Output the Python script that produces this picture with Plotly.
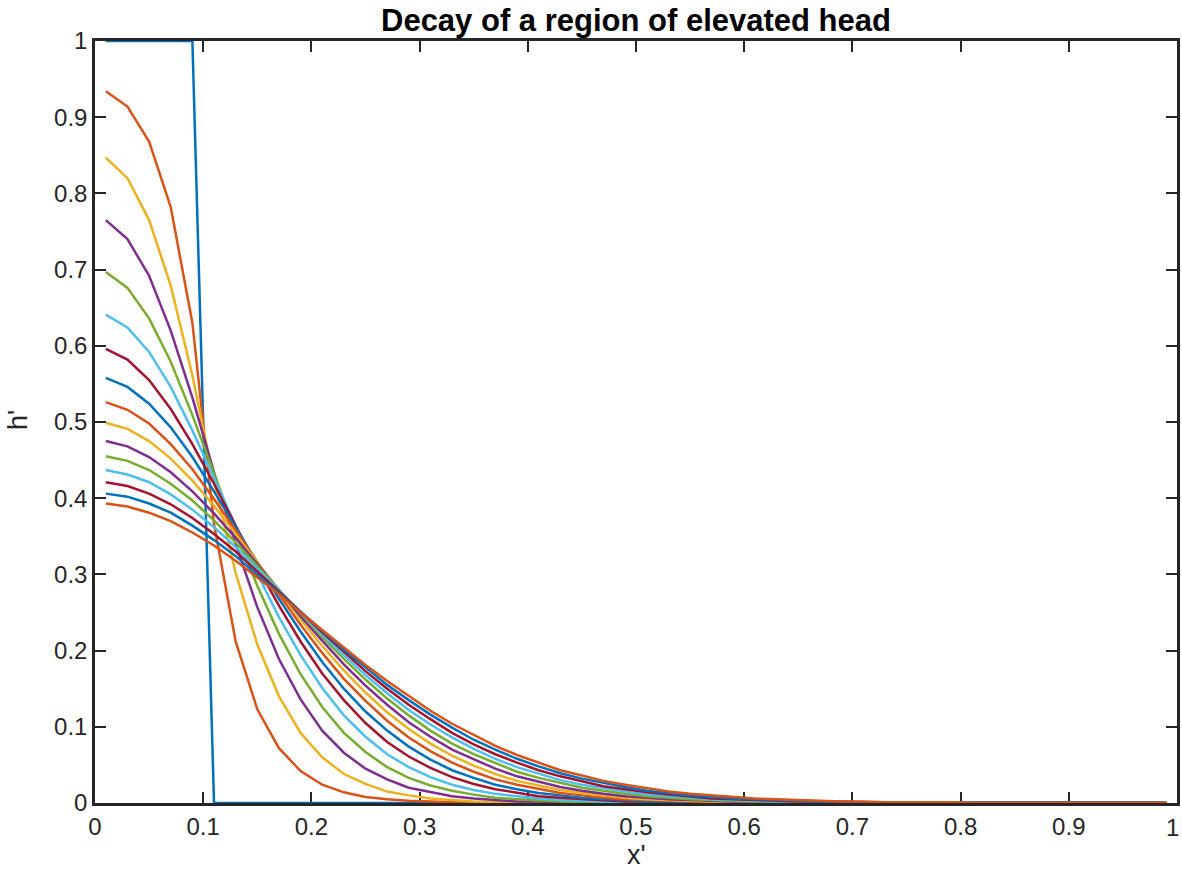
import plotly.graph_objects as go

# grid positions (x')
x = [0.01, 0.03, 0.05, 0.07, 0.09, 0.11, 0.13, 0.15, 0.17, 0.19,
     0.21, 0.23, 0.25, 0.27, 0.29, 0.31, 0.33, 0.35, 0.37, 0.39,
     0.41, 0.43, 0.45, 0.47, 0.49, 0.51, 0.53, 0.55, 0.57, 0.59,
     0.61, 0.63, 0.65, 0.67, 0.69, 0.71, 0.73, 0.75, 0.77, 0.79,
     0.81, 0.83, 0.85, 0.87, 0.89, 0.91, 0.93, 0.95, 0.97, 0.99]

# head profiles h' (thousandths), one list per time level
h01 = [1000, 1000, 1000, 1000, 1000, 0, 0, 0, 0, 0, 0, 0, 0, 0, 0, 0, 0, 0, 0, 0,
       0, 0, 0, 0, 0, 0, 0, 0, 0, 0, 0, 0, 0, 0, 0, 0, 0, 0, 0, 0, 0, 0, 0, 0, 0, 0, 0, 0, 0, 0]
h02 = [934, 914, 868, 782, 630, 366, 212, 123, 72, 42, 24, 14, 8, 5, 3, 2, 1, 1, 0, 0,
       0, 0, 0, 0, 0, 0, 0, 0, 0, 0, 0, 0, 0, 0, 0, 0, 0, 0, 0, 0, 0, 0, 0, 0, 0, 0, 0, 0, 0, 0]
h03 = [847, 820, 765, 679, 561, 423, 302, 208, 140, 92, 60, 38, 25, 15, 10, 6, 4, 2, 1, 1,
       1, 0, 0, 0, 0, 0, 0, 0, 0, 0, 0, 0, 0, 0, 0, 0, 0, 0, 0, 0, 0, 0, 0, 0, 0, 0, 0, 0, 0, 0]
h04 = [765, 740, 692, 620, 532, 434, 340, 257, 189, 136, 95, 66, 45, 31, 20, 14, 9, 6, 4, 2,
       2, 1, 1, 0, 0, 0, 0, 0, 0, 0, 0, 0, 0, 0, 0, 0, 0, 0, 0, 0, 0, 0, 0, 0, 0, 0, 0, 0, 0, 0]
h05 = [697, 676, 636, 579, 509, 433, 356, 285, 222, 169, 126, 92, 67, 47, 33, 23, 16, 11, 7, 5,
       3, 2, 1, 1, 1, 0, 0, 0, 0, 0, 0, 0, 0, 0, 0, 0, 0, 0, 0, 0, 0, 0, 0, 0, 0, 0, 0, 0, 0, 0]
h06 = [641, 624, 592, 546, 489, 427, 363, 301, 244, 194, 151, 115, 87, 64, 47, 34, 24, 17, 12, 9,
       6, 4, 3, 2, 1, 1, 1, 0, 0, 0, 0, 0, 0, 0, 0, 0, 0, 0, 0, 0, 0, 0, 0, 0, 0, 0, 0, 0, 0, 0]
h07 = [596, 582, 555, 517, 471, 419, 364, 310, 259, 212, 170, 135, 105, 80, 61, 46, 34, 25, 18, 13,
       9, 7, 5, 3, 2, 2, 1, 1, 0, 0, 0, 0, 0, 0, 0, 0, 0, 0, 0, 0, 0, 0, 0, 0, 0, 0, 0, 0, 0, 0]
h08 = [558, 546, 524, 493, 454, 409, 362, 315, 268, 225, 185, 150, 120, 95, 74, 57, 43, 33, 24, 18,
       13, 10, 7, 5, 4, 2, 2, 1, 1, 1, 0, 0, 0, 0, 0, 0, 0, 0, 0, 0, 0, 0, 0, 0, 0, 0, 0, 0, 0, 0]
h09 = [526, 516, 498, 471, 438, 399, 358, 316, 274, 234, 197, 163, 134, 108, 86, 68, 53, 41, 31, 24,
       18, 13, 10, 7, 5, 4, 3, 2, 1, 1, 1, 0, 0, 0, 0, 0, 0, 0, 0, 0, 0, 0, 0, 0, 0, 0, 0, 0, 0, 0]
h10 = [499, 491, 475, 452, 423, 390, 353, 316, 278, 241, 206, 174, 145, 119, 97, 78, 62, 49, 38, 29,
       23, 17, 13, 10, 7, 5, 4, 3, 2, 1, 1, 1, 1, 0, 0, 0, 0, 0, 0, 0, 0, 0, 0, 0, 0, 0, 0, 0, 0, 0]
h11 = [475, 468, 454, 434, 409, 380, 348, 314, 279, 245, 213, 182, 154, 129, 106, 87, 70, 57, 45, 35,
       28, 21, 16, 12, 9, 7, 5, 4, 3, 2, 2, 1, 1, 1, 0, 0, 0, 0, 0, 0, 0, 0, 0, 0, 0, 0, 0, 0, 0, 0]
h12 = [455, 449, 437, 419, 397, 371, 342, 311, 280, 248, 218, 189, 162, 137, 115, 95, 78, 64, 52, 41,
       33, 26, 20, 16, 12, 9, 7, 5, 4, 3, 2, 2, 1, 1, 1, 0, 0, 0, 0, 0, 0, 0, 0, 0, 0, 0, 0, 0, 0, 0]
h13 = [437, 431, 421, 405, 385, 362, 336, 308, 279, 250, 221, 194, 168, 144, 122, 103, 86, 71, 58, 47,
       38, 30, 24, 19, 15, 11, 9, 7, 5, 4, 3, 2, 2, 1, 1, 1, 0, 0, 0, 0, 0, 0, 0, 0, 0, 0, 0, 0, 0, 0]
h14 = [421, 416, 406, 392, 374, 353, 330, 304, 278, 251, 224, 198, 173, 150, 129, 110, 92, 77, 64, 53,
       43, 35, 28, 22, 18, 14, 11, 8, 6, 5, 4, 3, 2, 2, 1, 1, 1, 0, 0, 0, 0, 0, 0, 0, 0, 0, 0, 0, 0, 0]
h15 = [406, 402, 393, 381, 364, 345, 324, 300, 276, 251, 226, 201, 178, 155, 135, 116, 99, 83, 70, 58,
       48, 39, 32, 26, 21, 16, 13, 10, 8, 6, 5, 4, 3, 2, 2, 1, 1, 1, 1, 0, 0, 0, 0, 0, 0, 0, 0, 0, 0, 0]
h16 = [393, 389, 381, 370, 355, 338, 318, 296, 274, 250, 227, 204, 181, 160, 140, 121, 104, 89, 75, 63,
       53, 43, 36, 29, 24, 19, 15, 12, 10, 8, 6, 5, 4, 3, 2, 2, 1, 1, 1, 1, 0, 0, 0, 0, 0, 0, 0, 0, 0, 0]

profiles = [h01, h02, h03, h04, h05, h06, h07, h08, h09, h10, h11, h12, h13, h14, h15, h16]

colors = ['#0072BD', '#D95319', '#EDB120', '#7E2F8E', '#77AC30', '#4DBEEE', '#A2142F']

tick_vals = [0, 0.1, 0.2, 0.3, 0.4, 0.5, 0.6, 0.7, 0.8, 0.9, 1]
tick_text = ['0', '0.1', '0.2', '0.3', '0.4', '0.5', '0.6', '0.7', '0.8', '0.9', '1']

title_text = 'Decay of a region of elevated head'
xlabel = "x'"
ylabel = "h'"

FONT = 'Liberation Sans, Arial, Helvetica, sans-serif'
AX = '#262626'

fig = go.Figure()
for i, p in enumerate(profiles):
    fig.add_trace(go.Scatter(
        x=x, y=[v / 1000 for v in p], mode='lines',
        line=dict(color=colors[i % len(colors)], width=2.5),
        showlegend=False, hoverinfo='skip'))

axis_common = dict(
    range=[0, 1], tickmode='array', tickvals=tick_vals, ticktext=tick_text,
    showline=True, linewidth=2.5, linecolor=AX, mirror='ticks',
    ticks='inside', ticklen=11, tickwidth=2, tickcolor=AX,
    showgrid=False, zeroline=False, layer='below traces',
    tickfont=dict(family=FONT, size=24, color=AX),
)

fig.update_layout(
    width=1182, height=879,
    margin=dict(l=95, r=5, t=41, b=76, autoexpand=False),
    paper_bgcolor='white', plot_bgcolor='white',
    xaxis=dict(**axis_common),
    yaxis=dict(**axis_common),
    showlegend=False,
)

# the last x tick label sits at the right edge of the window; keep it fully inside
fig.add_annotation(text=tick_text[-1], x=tick_vals[-1], y=(803 - 827) / 762, xref='x', yref='paper',
                   showarrow=False, xanchor='right', yanchor='middle', xshift=4,
                   font=dict(family=FONT, size=24, color=AX))
fig.add_annotation(text=title_text, x=0.5, y=(803 - 20) / 762, xref='paper', yref='paper',
                   showarrow=False, xanchor='center', yanchor='middle',
                   font=dict(family=FONT, size=31, color='black', weight='bold'))
fig.add_annotation(text=xlabel, x=0.5, y=(803 - 855) / 762, xref='paper', yref='paper',
                   showarrow=False, xanchor='center', yanchor='middle',
                   font=dict(family=FONT, size=27, color=AX))
fig.add_annotation(text=ylabel, x=(18 - 95) / 1082, y=(803 - 420) / 762, xref='paper', yref='paper',
                   showarrow=False, xanchor='center', yanchor='middle', textangle=-90,
                   font=dict(family=FONT, size=27, color=AX))

fig.write_html("out.html")
